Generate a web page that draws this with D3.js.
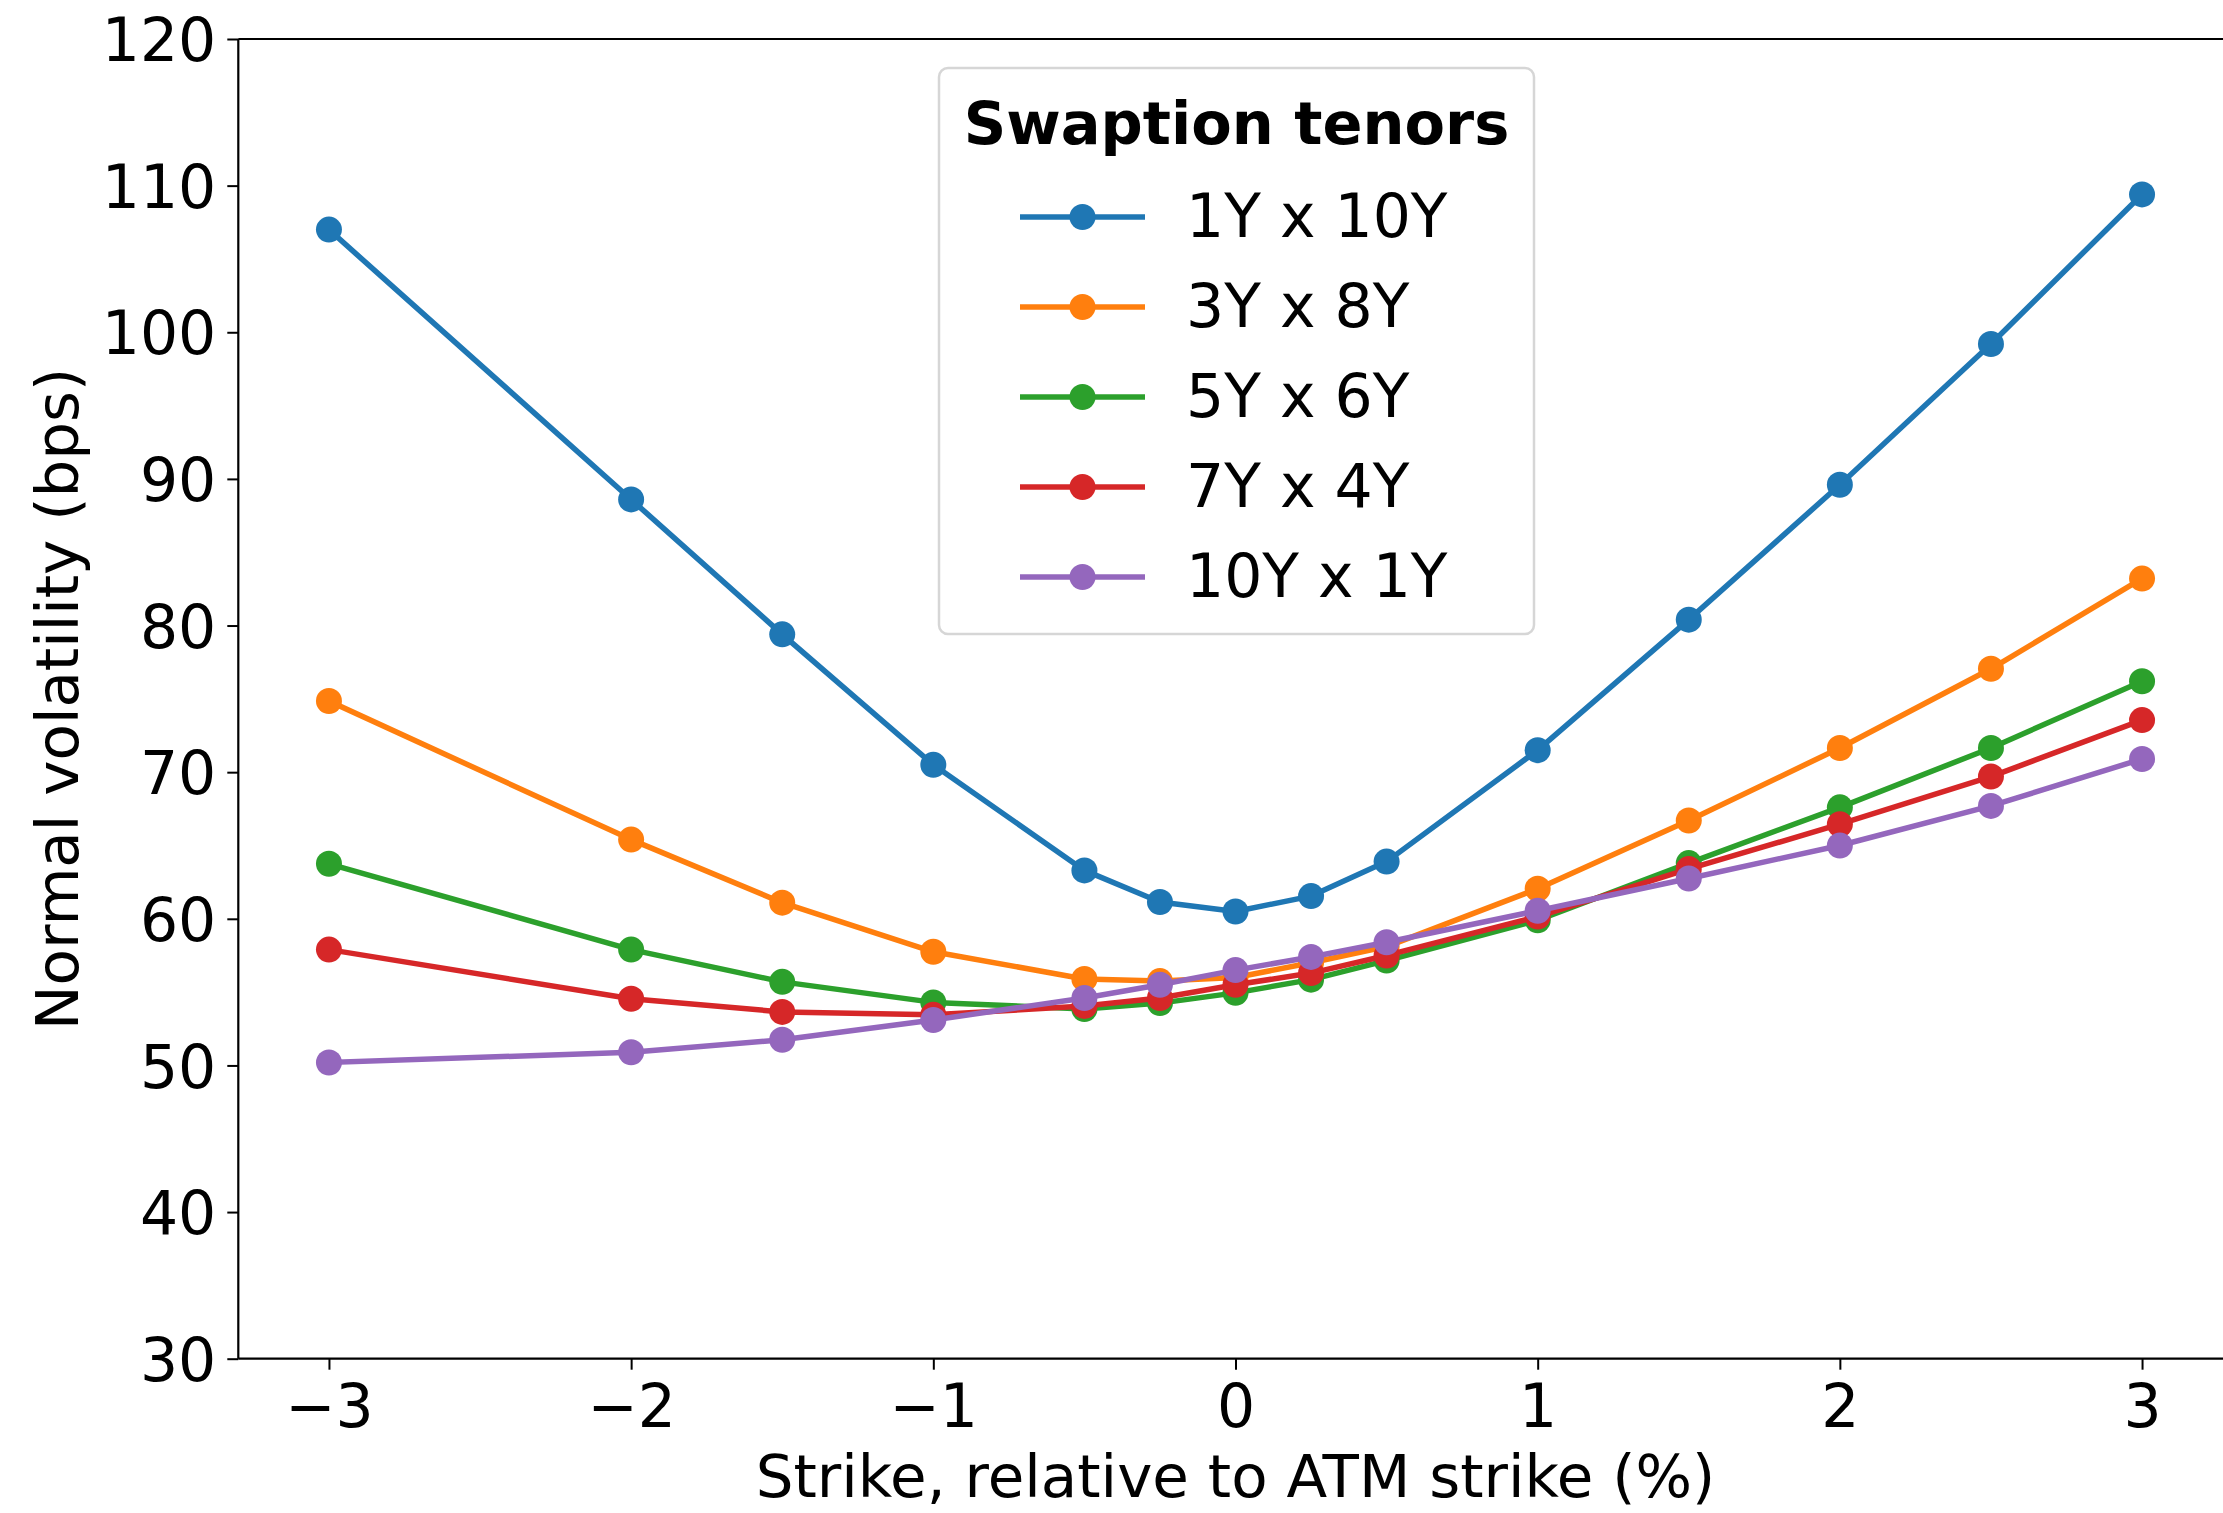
<!DOCTYPE html>
<html>
<head>
<meta charset="utf-8">
<script src="https://cdn.jsdelivr.net/npm/d3@7"></script>
<style>
  html, body { margin: 0; padding: 0; background: #ffffff; overflow: hidden; }
  svg { display: block; font-family: "DejaVu Sans", sans-serif; }
</style>
</head>
<body>
<svg id="chart" width="2223" height="1513"></svg>
<script>
// Strike offsets relative to the ATM strike (%)
const strikes = [-3, -2, -1.5, -1, -0.5, -0.25, 0, 0.25, 0.5, 1, 1.5, 2, 2.5, 3];

// Normal volatility (bps) for each swaption tenor
const vol1Yx10Y = [107.0, 88.6, 79.4, 70.5, 63.3, 61.15, 60.5, 61.55, 63.9, 71.5, 80.4, 89.6, 99.2, 109.4];
const vol3Yx8Y  = [74.85, 65.4, 61.1, 57.75, 55.9, 55.75, 56.0, 57.0, 58.1, 62.05, 66.7, 71.65, 77.05, 83.2];
const vol5Yx6Y  = [63.75, 57.9, 55.7, 54.3, 53.85, 54.25, 54.95, 55.85, 57.15, 59.9, 63.8, 67.6, 71.65, 76.2];
const vol7Yx4Y  = [57.9, 54.55, 53.65, 53.45, 54.05, 54.6, 55.5, 56.3, 57.5, 60.15, 63.4, 66.45, 69.7, 73.55];
const vol10Yx1Y = [50.2, 50.9, 51.75, 53.1, 54.6, 55.5, 56.5, 57.4, 58.4, 60.55, 62.75, 65.0, 67.7, 70.9];

const seriesNames  = ["1Y x 10Y", "3Y x 8Y", "5Y x 6Y", "7Y x 4Y", "10Y x 1Y"];
const seriesValues = [vol1Yx10Y, vol3Yx8Y, vol5Yx6Y, vol7Yx4Y, vol10Yx1Y];
const seriesColors = ["#1f77b4", "#ff7f0e", "#2ca02c", "#d62728", "#9467bd"];

const xTicks = [-3, -2, -1, 0, 1, 2, 3];
const yTicks = [30, 40, 50, 60, 70, 80, 90, 100, 110, 120];

const legendTitle = "Swaption tenors";
const xLabel = "Strike, relative to ATM strike (%)";
const yLabel = "Normal volatility (bps)";

// Plot frame
const frame = { left: 238.3, right: 2232.7, top: 39, bottom: 1358.7 };
const tickFont = 60, labelFont = 59.5, legendFont = 60, legendTitleFont = 59;
const lineWidth = 5.5, markerR = 13;

const svg = d3.select("#chart");

const x = d3.scaleLinear().domain([-3.3, 3.3]).range([frame.left, frame.right]);
const y = d3.scaleLinear().domain([30, 120]).range([frame.bottom, frame.top]);

const fmtTick = v => (v < 0 ? "\u2212" + Math.abs(v) : String(v));

// Series: line then markers, one series at a time
const line = d3.line().x(d => x(d[0])).y(d => y(d[1]));
const plot = svg.append("g").attr("class", "series");

seriesValues.forEach((vals, i) => {
  const pts = strikes.map((s, j) => [s, vals[j]]);
  const g = plot.append("g");
  g.append("path")
    .datum(pts)
    .attr("d", line)
    .attr("fill", "none")
    .attr("stroke", seriesColors[i])
    .attr("stroke-width", lineWidth)
    .attr("stroke-linejoin", "round")
    .attr("stroke-linecap", "square");
  g.selectAll("circle")
    .data(pts)
    .join("circle")
    .attr("cx", d => x(d[0]))
    .attr("cy", d => y(d[1]))
    .attr("r", markerR)
    .attr("fill", seriesColors[i]);
});

// Axes
const xAxis = d3.axisBottom(x).tickValues(xTicks).tickFormat(fmtTick).tickSize(11).tickPadding(14);
const yAxis = d3.axisLeft(y).tickValues(yTicks).tickFormat(fmtTick).tickSize(11).tickPadding(11);

const gx = svg.append("g").attr("transform", `translate(0,${frame.bottom})`).call(xAxis);
const gy = svg.append("g").attr("transform", `translate(${frame.left},0)`).call(yAxis);

[gx, gy].forEach(g => {
  g.select(".domain").remove();
  g.selectAll(".tick line").attr("stroke", "#000").attr("stroke-width", 2);
  g.selectAll(".tick text")
    .attr("fill", "#000")
    .style("font-size", tickFont + "px")
    .style("font-family", "DejaVu Sans, sans-serif");
});
gx.selectAll(".tick text").attr("dy", null).attr("y", 68);
gy.selectAll(".tick text").attr("dy", "0.36em");

// Spines (left, bottom, top)
const spines = svg.append("g").attr("stroke", "#000").attr("stroke-width", 2.2).attr("fill", "none");
spines.append("line").attr("x1", frame.left).attr("x2", frame.left).attr("y1", frame.top).attr("y2", frame.bottom);
spines.append("line").attr("x1", frame.left).attr("x2", frame.right).attr("y1", frame.bottom).attr("y2", frame.bottom);
spines.append("line").attr("x1", frame.left).attr("x2", frame.right).attr("y1", frame.top).attr("y2", frame.top);

// Axis labels
svg.append("text")
  .attr("x", (frame.left + frame.right) / 2)
  .attr("y", 1497)
  .attr("text-anchor", "middle")
  .style("font-size", labelFont + "px")
  .text(xLabel);

svg.append("text")
  .attr("transform", `translate(78,${(frame.top + frame.bottom) / 2}) rotate(-90)`)
  .attr("text-anchor", "middle")
  .style("font-size", labelFont + "px")
  .text(yLabel);

// Legend
const legend = svg.append("g").attr("class", "legend");
const box = { x: 939, y: 68, w: 595, h: 566 };
legend.append("rect")
  .attr("x", box.x).attr("y", box.y)
  .attr("width", box.w).attr("height", box.h)
  .attr("rx", 9).attr("ry", 9)
  .attr("fill", "#ffffff").attr("fill-opacity", 0.8)
  .attr("stroke", "#d6d6d6").attr("stroke-width", 2.5);

legend.append("text")
  .attr("x", box.x + box.w / 2)
  .attr("y", 144)
  .attr("text-anchor", "middle")
  .style("font-size", legendTitleFont + "px")
  .style("font-weight", "bold")
  .text(legendTitle);

const rowY = d3.scalePoint().domain(seriesNames).range([217, 577]);
seriesNames.forEach((name, i) => {
  const cy = rowY(name);
  const row = legend.append("g");
  row.append("line")
    .attr("x1", 1020).attr("x2", 1145)
    .attr("y1", cy).attr("y2", cy)
    .attr("stroke", seriesColors[i])
    .attr("stroke-width", lineWidth);
  row.append("circle")
    .attr("cx", 1082.5).attr("cy", cy).attr("r", markerR)
    .attr("fill", seriesColors[i]);
  row.append("text")
    .attr("x", 1186)
    .attr("y", cy + 20)
    .style("font-size", legendFont + "px")
    .text(name);
});
</script>
</body>
</html>
